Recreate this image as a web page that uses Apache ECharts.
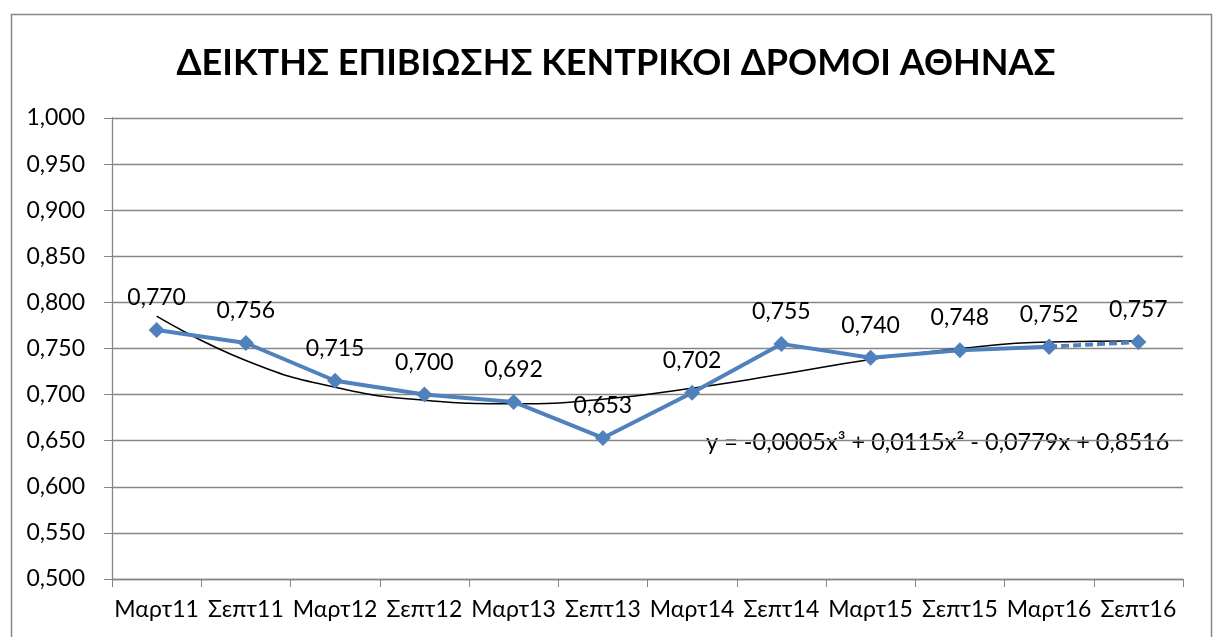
<!DOCTYPE html>
<html>
<head>
<meta charset="utf-8">
<script src="https://cdn.jsdelivr.net/npm/echarts@6/dist/echarts.min.js"></script>
<style>
  html, body { margin: 0; padding: 0; background: #fff; }
  #chart { width: 1213px; height: 637px; }
</style>
</head>
<body>
<div id="chart"></div>
<script>
const categories = ['Μαρτ11', 'Σεπτ11', 'Μαρτ12', 'Σεπτ12', 'Μαρτ13', 'Σεπτ13',
                    'Μαρτ14', 'Σεπτ14', 'Μαρτ15', 'Σεπτ15', 'Μαρτ16', 'Σεπτ16'];
const survival = [0.770, 0.756, 0.715, 0.700, 0.692, 0.653, 0.702, 0.755, 0.740, 0.748, 0.752, 0.757];
// polynomial trend line at each category
const trend = [0.785, 0.737, 0.708, 0.694, 0.690, 0.695, 0.707, 0.722, 0.738, 0.750, 0.757, 0.758];
const yTicks = { min: 0.5, max: 1.0, step: 0.05 };
const equation = 'y = -0,0005x³ + 0,0115x² - 0,0779x + 0,8516';

const fmt = v => v.toFixed(3).replace('.', ',');
const font = 'Lato, "Open Sans", sans-serif';
const blue = '#4f81bd';
const last = survival.length - 1;

// solid part up to Μαρτ16, dashed last segment
const solid = survival.map((v, i) => i < last ? v : '-');
const dashed = survival.map((v, i) => i >= last - 1 ? v : '-');

const pointLabel = {
    show: true, position: 'top', distance: 13,
    fontSize: 23, color: '#000', fontFamily: font,
    formatter: p => fmt(p.value)
};

const chart = echarts.init(document.getElementById('chart'));
chart.setOption({
    animation: false,
    textStyle: { fontFamily: font },
    title: {
        text: 'ΔΕΙΚΤΗΣ ΕΠΙΒΙΩΣΗΣ ΚΕΝΤΡΙΚΟΙ ΔΡΟΜΟΙ ΑΘΗΝΑΣ',
        left: 611, textAlign: 'center', top: 40,
        textStyle: { fontFamily: font, fontSize: 36, fontWeight: 'bold', color: '#000' }
    },
    graphic: [
        {
            type: 'rect', left: 9, top: 12, silent: true,
            shape: { width: 1200, height: 640 },
            style: { fill: 'none', stroke: '#868686', lineWidth: 1.5 }
        },
        {
            type: 'text', left: 706, top: 430, silent: true,
            style: { text: equation, fontFamily: font, fontSize: 23.5, fill: '#000' }
        }
    ],
    grid: { left: 112, right: 30, top: 118, bottom: 58 },
    xAxis: {
        type: 'category',
        data: categories,
        boundaryGap: true,
        axisLine: { lineStyle: { color: '#868686', width: 1.3 } },
        axisTick: { show: true, length: 8, lineStyle: { color: '#868686' } },
        axisLabel: { interval: 0, margin: 19, fontSize: 23, color: '#000', fontFamily: font }
    },
    yAxis: {
        type: 'value',
        min: yTicks.min, max: yTicks.max, interval: yTicks.step,
        axisLine: { show: true, lineStyle: { color: '#868686', width: 1.3 } },
        axisTick: { show: true, length: 8, lineStyle: { color: '#868686' } },
        splitLine: { lineStyle: { color: '#868686', width: 1.3 } },
        axisLabel: { margin: 27, fontSize: 23, color: '#000', fontFamily: font, formatter: fmt }
    },
    series: [
        {
            type: 'line',
            data: trend,
            smooth: true,
            symbol: 'none',
            silent: true,
            z: 3,
            lineStyle: { color: '#000', width: 1.5 }
        },
        {
            type: 'line',
            data: dashed,
            symbol: 'diamond',
            symbolSize: 16,
            z: 4,
            itemStyle: { color: blue },
            lineStyle: { color: blue, width: 4, type: [8, 4] },
            label: Object.assign({}, pointLabel, {
                formatter: p => p.dataIndex === last ? fmt(p.value) : ''
            })
        },
        {
            type: 'line',
            data: solid,
            symbol: 'diamond',
            symbolSize: 16,
            z: 5,
            itemStyle: { color: blue },
            lineStyle: { color: blue, width: 4 },
            label: pointLabel
        }
    ]
});
window.addEventListener('resize', () => chart.resize());
</script>
</body>
</html>
